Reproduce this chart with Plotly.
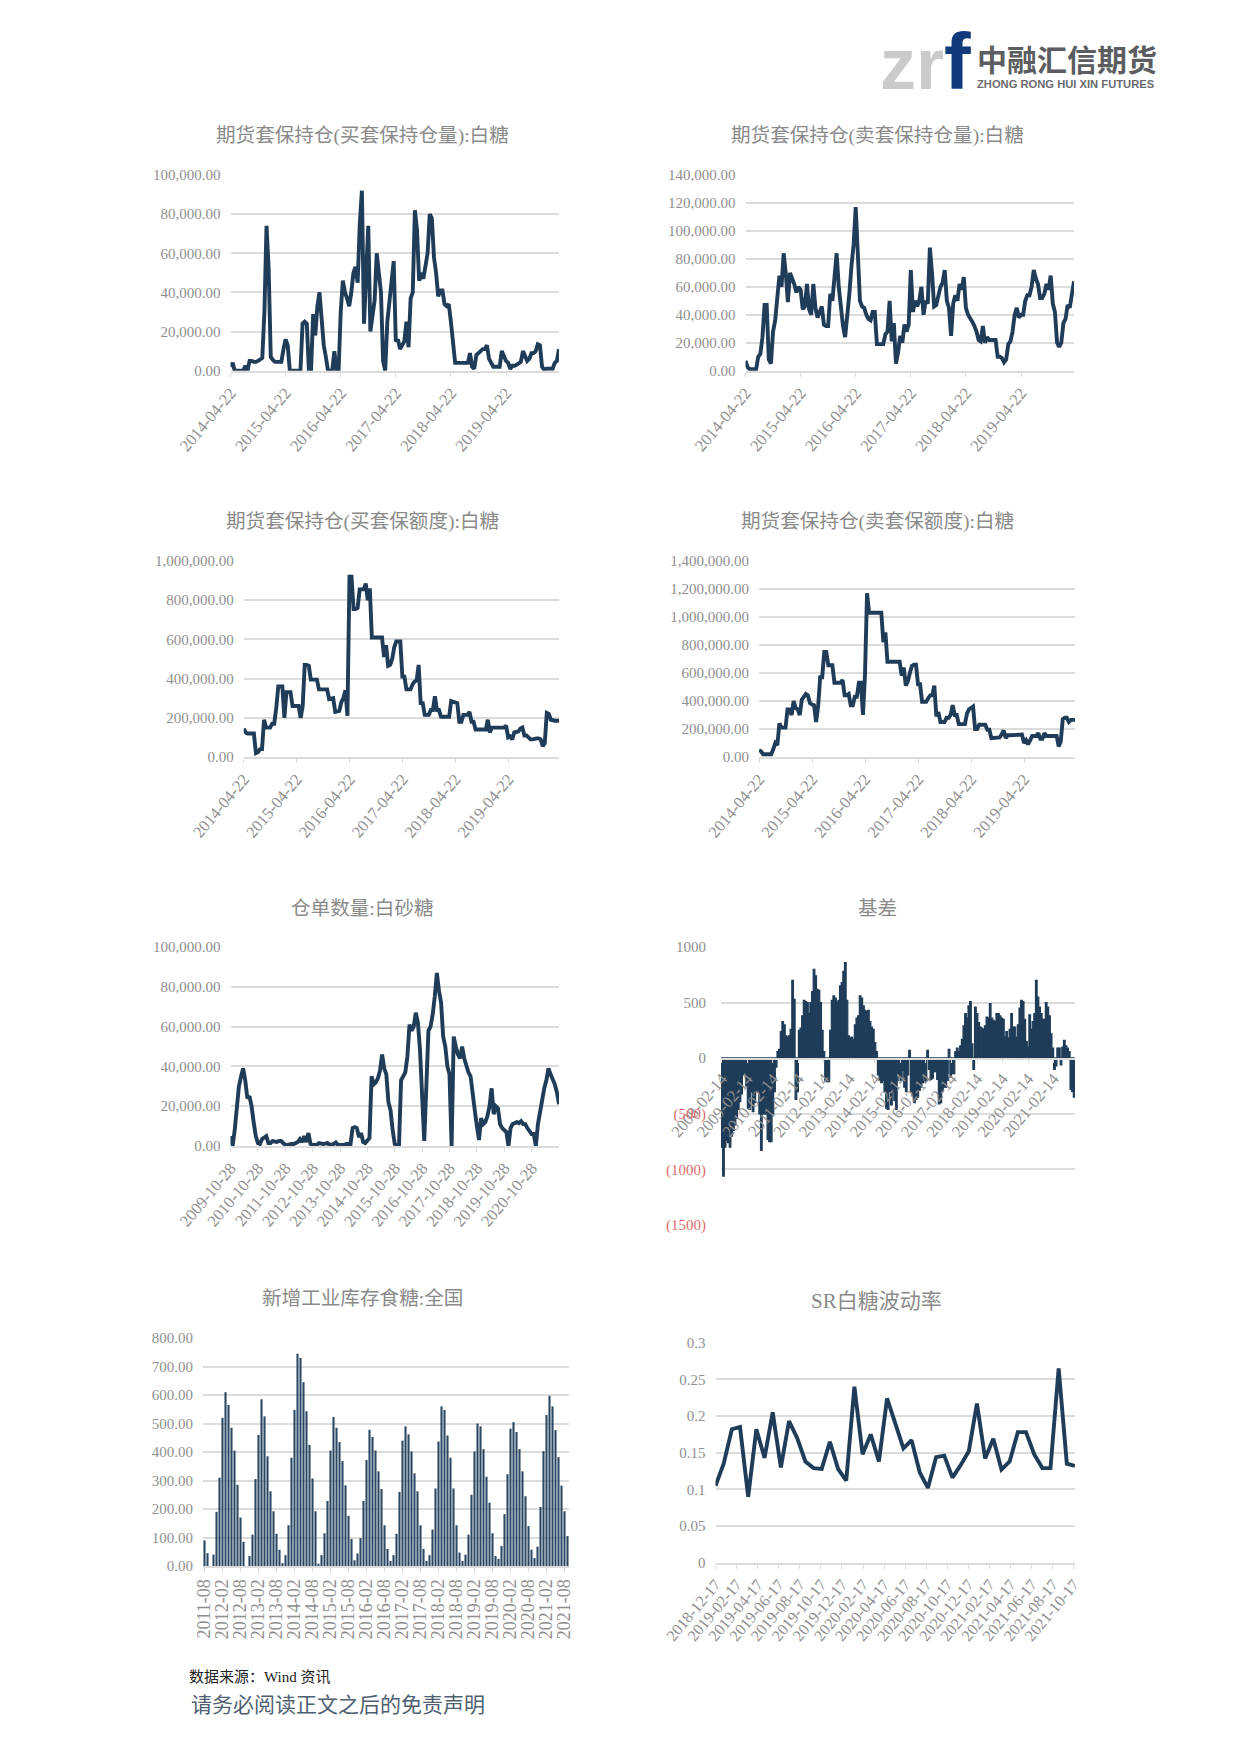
import plotly.graph_objects as go

W, H = 1240, 1753
NAVY = "#1f3c58"
GREY = "#8f8f8f"
GRID = "#dcdcdc"
FONT = "Liberation Serif, Noto Sans CJK SC"

buy_oi = [
 2000,4000,0,0,0,0,0,2500,0,5000,5000,4500,4500,5000,6000,6500,30000,74000,52000,7000,5500,4500,4500,4500,4500,11000,
 16000,13000,0,0,0,0,0,0,24000,25000,24000,0,0,29000,18000,33000,40000,24000,13000,7000,0,0,0,10000,0,0,
 30000,46000,40000,37000,33000,40000,50000,53000,45000,75000,92000,24000,56000,74000,20000,28000,36000,60000,50000,40000,5000,0,25000,37000,48000,56000,
 15000,16000,11000,13000,15000,25000,12000,37000,40000,82000,72000,46000,50000,47000,55000,60000,80000,78000,58000,50000,38000,41000,41000,34000,33000,34000,
 25000,12000,4000,4000,4000,4000,4000,4000,4000,9000,2000,1000,8000,9000,10000,11000,11000,13000,6000,4000,2000,2000,2000,2000,10000,7000,
 5000,4000,1000,2500,2500,3000,3500,4500,10000,7000,5000,6000,9000,9000,10000,13500,13000,2000,500,1000,1000,1000,1000,4000,5000,11000,
]
sell_oi = [
 7000,2500,1000,1000,1000,1000,10000,12000,24000,47000,47000,8000,5000,28000,36000,52000,68000,60000,84000,70000,49000,70000,66000,62000,56000,60000,
 58000,44000,46000,62000,44000,40000,62000,45000,38000,42000,46000,33000,32000,32000,55000,50000,72000,84000,60000,42000,32000,24000,38000,55000,75000,90000,
 117000,85000,50000,46000,45000,40000,37000,36000,42000,42000,19000,19000,19000,19000,26000,28000,50000,21000,34000,5000,13000,25000,20000,33000,28000,33000,
 72000,42000,50000,46000,50000,60000,40000,50000,48000,88000,70000,46000,47000,55000,60000,63000,72000,50000,45000,25000,48000,54000,50000,62000,58000,67000,
 45000,40000,38000,35000,32000,28000,22000,21000,32000,20000,24000,22000,22000,22000,22000,10000,10000,9000,6000,8000,19000,21000,28000,40000,45000,38000,
 40000,40000,50000,54000,54000,60000,72000,66000,62000,52000,52000,55000,62000,58000,68000,48000,42000,20000,17000,20000,34000,37000,47000,45000,53000,64000,
]
buy_amt = [
 145000,125000,120000,120000,120000,120000,20000,25000,40000,40000,190000,150000,150000,150000,170000,170000,250000,360000,360000,360000,200000,330000,330000,330000,260000,260000,
 260000,260000,200000,260000,470000,470000,465000,395000,395000,395000,395000,345000,345000,345000,345000,345000,295000,300000,300000,230000,235000,235000,280000,300000,340000,210000,
 920000,920000,755000,755000,760000,855000,855000,855000,885000,800000,860000,610000,610000,610000,610000,610000,610000,510000,570000,465000,470000,500000,560000,590000,590000,590000,
 410000,410000,345000,345000,345000,370000,385000,390000,470000,275000,275000,215000,215000,215000,240000,240000,310000,240000,240000,205000,205000,205000,205000,205000,285000,280000,
 275000,275000,180000,180000,215000,215000,215000,230000,180000,180000,140000,140000,140000,140000,140000,140000,190000,125000,150000,150000,150000,150000,150000,150000,150000,160000,
 100000,105000,90000,125000,130000,130000,145000,150000,110000,110000,100000,90000,90000,95000,95000,95000,90000,55000,70000,225000,220000,190000,185000,185000,185000,185000,
]
sell_amt = [
 50000,40000,20000,20000,20000,20000,20000,55000,100000,85000,240000,210000,210000,210000,340000,340000,300000,400000,350000,340000,300000,410000,430000,450000,440000,385000,
 375000,370000,250000,360000,570000,570000,750000,750000,655000,655000,655000,530000,530000,530000,530000,550000,440000,440000,450000,370000,370000,430000,430000,530000,530000,300000,
 590000,1170000,1030000,1030000,1030000,1030000,1030000,1030000,1030000,820000,890000,680000,680000,680000,680000,680000,680000,680000,580000,640000,510000,540000,600000,650000,660000,660000,
 520000,520000,395000,395000,395000,420000,440000,440000,510000,290000,320000,250000,250000,250000,280000,280000,300000,370000,300000,300000,235000,235000,235000,235000,310000,340000,
 350000,360000,200000,200000,230000,230000,230000,230000,195000,195000,135000,135000,135000,135000,140000,160000,190000,135000,155000,155000,155000,155000,155000,155000,155000,160000,
 100000,120000,90000,120000,150000,150000,150000,170000,130000,130000,170000,150000,150000,155000,155000,150000,150000,75000,110000,270000,280000,280000,250000,265000,265000,265000,
]
receipts = [
 5000,0,8000,18000,30000,35000,39000,33000,24000,25000,20000,12000,5000,
 1500,1000,3500,4000,5000,1500,1500,2500,2000,2000,2500,2500,1500,
 500,500,1000,1000,1000,1500,2000,3500,2000,5000,2000,6500,1000,
 500,500,500,1500,1000,1000,1200,1500,500,700,1000,1800,500,
 500,300,500,1000,1000,1000,9000,9500,9000,4500,6500,2000,1500,
 2500,4000,35000,31000,32000,34000,38000,46000,39000,36000,22000,18000,8000,
 1000,0,0,33000,35000,37000,45000,61000,58000,60000,67000,62000,48000,
 25000,2500,30000,58000,60000,66000,75000,87000,78000,72000,55000,50000,40000,
 36000,0,55000,50000,46000,44000,50000,44000,40000,37000,35000,25000,18000,
 10000,3000,14000,11000,12000,15000,20000,29000,16000,20000,19000,11000,9000,
 8000,7000,0,9000,11000,11500,12000,11500,12500,11000,11000,9000,7000,
 6000,6000,0,11000,18000,23000,29000,33000,39000,36000,34000,31000,27000,21000,
]
basis = [
 -800,-1060,-800,-740,-760,-800,-700,-650,-600,-540,-460,-390,-320,-150,-130,-250,
 -450,-460,-300,-480,-400,-300,-300,-500,-830,-500,-500,-500,-730,-750,-750,-500,
 -300,-80,60,80,240,330,300,200,190,200,260,700,530,-370,-300,250,
 270,380,520,510,500,400,500,600,800,740,620,610,500,250,60,-200,
 -210,-210,250,520,560,540,500,520,650,680,780,860,520,200,180,190,
 170,300,360,380,560,540,470,430,420,430,330,280,260,140,60,-150,
 -200,-220,-200,-300,-450,-460,-300,-420,-300,-380,-460,-200,-170,-200,-110,-260,
 -300,-150,70,-300,-340,-400,-370,-350,-290,-260,-220,-210,-200,70,-100,-190,
 -180,-120,-120,-190,-410,-400,-300,-260,-260,-200,80,-170,-140,-140,60,90,
 60,110,170,290,400,360,470,510,130,-100,460,400,320,280,270,260,
 290,370,360,490,360,340,330,400,400,380,360,350,190,240,180,260,
 400,280,280,190,300,450,520,510,350,150,100,390,260,330,400,700,
 550,460,400,350,350,500,460,380,220,90,-100,-70,90,90,-60,100,
 160,110,90,60,-280,-300,-350,
]
new_stock = [
 90,45,0,40,190,310,520,610,565,485,405,285,170,85,0,35,110,305,460,585,525,385,262,192,113,57,10,38,143,380,
 548,745,730,645,543,425,307,192,8,38,115,228,405,523,485,435,368,283,176,95,20,44,98,228,372,478,453,405,332,270,
 143,60,18,38,113,260,440,490,462,402,325,262,143,60,18,38,128,272,437,560,548,458,380,272,143,47,18,40,110,250,
 402,500,490,410,313,222,115,35,25,70,182,322,482,505,470,410,332,245,140,57,28,68,207,403,530,597,560,477,382,282,
 192,105,
]
volatility = [
 .105,.135,.182,.185,.09,.182,.143,.205,.13,.193,.17,.138,.129,.128,.165,.128,.112,.24,.148,.175,.138,.224,.19,
 .156,.167,.123,.102,.144,.146,.116,.133,.152,.217,.142,.169,.127,.138,.178,.178,.148,.129,.129,.265,.135,.132,
]

labels_a = ["2014-04-22","2015-04-22","2016-04-22","2017-04-22","2018-04-22","2019-04-22"]
labels_receipts = ["2009-10-28","2010-10-28","2011-10-28","2012-10-28","2013-10-28","2014-10-28","2015-10-28",
                   "2016-10-28","2017-10-28","2018-10-28","2019-10-28","2020-10-28"]
labels_basis = ["2008-02-14","2009-02-14","2010-02-14","2011-02-14","2012-02-14","2013-02-14","2014-02-14",
                "2015-02-14","2016-02-14","2017-02-14","2018-02-14","2019-02-14","2020-02-14","2021-02-14"]
labels_stock = ["2011-08","2012-02","2012-08","2013-02","2013-08","2014-02","2014-08","2015-02","2015-08","2016-02",
                "2016-08","2017-02","2017-08","2018-02","2018-08","2019-02","2019-08","2020-02","2020-08","2021-02","2021-08"]
labels_vol = ["2018-12-17","2019-02-17","2019-04-17","2019-06-17","2019-08-17","2019-10-17","2019-12-17","2020-02-17",
              "2020-04-17","2020-06-17","2020-08-17","2020-10-17","2020-12-17","2021-02-17","2021-04-17","2021-06-17",
              "2021-08-17","2021-10-17"]
basis_y = [1000, 500, 0, -500, -1000, -1500]
basis_y_text = ["1000", "500", "0", '<span style="color:#dd6b6b">(500)</span>',
                '<span style="color:#dd6b6b">(1000)</span>', '<span style="color:#dd6b6b">(1500)</span>']
vol_y = [0, 0.05, 0.1, 0.15, 0.2, 0.25, 0.3]
vol_y_text = ["0", "0.05", "0.1", "0.15", "0.2", "0.25", "0.3"]

fig = go.Figure()
ytickfont = dict(family=FONT, size=15, color=GREY)


def add_panel(n, box, title, title_xy, values, kind, labels, step, yrange, ydtick=None, yfmt=None,
              yvals=None, ytext=None, standoff=9, xrot=-50, xrange=None, free_zero=None, ticklen=4, tsize=19.6,
              xsize=16.5):
    left, right, top, bottom = box
    xid, yid = f"x{n}", f"y{n}"
    xs = list(range(len(values)))
    if kind == "line":
        fig.add_trace(go.Scatter(x=xs, y=values, mode="lines", xaxis=xid, yaxis=yid, cliponaxis=False,
                                 line=dict(color=NAVY, width=3.9, shape="linear"), showlegend=False))
    else:
        fig.add_trace(go.Bar(x=xs, y=values, xaxis=xid, yaxis=yid, width=1.0 if kind == "solid" else 0.7,
                             marker=dict(color=NAVY if kind == "solid" else "#2a4763",
                                         line=dict(width=1.2 if kind == "solid" else 0, color=NAVY)),
                             showlegend=False))
    xax = dict(domain=[left / W, right / W], anchor=yid, range=xrange or [0, len(values) - 1],
               tickmode="array", tickvals=[i * step for i in range(len(labels))], ticktext=labels,
               tickangle=xrot, tickfont=dict(family=FONT, size=xsize, color=GREY), showgrid=False, zeroline=False,
               showline=True, linecolor=GRID, linewidth=2, ticks="outside", ticklen=ticklen, tickcolor=GRID,
               tickwidth=1.2, automargin=False)
    if free_zero is not None:
        xax.update(anchor="free", position=1 - free_zero / H)
    yax = dict(domain=[1 - bottom / H, 1 - top / H], anchor=xid, range=yrange, tickfont=ytickfont,
               showgrid=True, gridcolor=GRID, gridwidth=2, zeroline=False, showline=False, ticks="",
               ticklabelstandoff=standoff, automargin=False)
    if yvals is not None:
        yax.update(tickmode="array", tickvals=yvals, ticktext=ytext)
    else:
        yax.update(dtick=ydtick, tick0=0, tickformat=yfmt)
    fig.update_layout({f"xaxis{n}": xax, f"yaxis{n}": yax})
    fig.add_annotation(text=title, x=title_xy[0] / W, y=1 - title_xy[1] / H, xref="paper", yref="paper",
                       xanchor="center", yanchor="middle", showarrow=False,
                       font=dict(family=FONT, size=tsize, color="#8a8a8a"))


add_panel(1, (230.5, 559, 175, 370.7), "期货套保持仓(买套保持仓量):白糖", (362.7, 136), buy_oi, "line", labels_a, 26,
          [0, 100000], 20000, ",.2f")
add_panel(2, (745.5, 1074, 175, 370.7), "期货套保持仓(卖套保持仓量):白糖", (877, 136), sell_oi, "line", labels_a, 26,
          [0, 140000], 20000, ",.2f")
add_panel(3, (243.7, 559, 561, 757), "期货套保持仓(买套保额度):白糖", (362.7, 522), buy_amt, "line", labels_a, 26,
          [0, 1000000], 200000, ",.2f")
add_panel(4, (759, 1075, 561, 757), "期货套保持仓(卖套保额度):白糖", (877, 522), sell_amt, "line", labels_a, 26,
          [0, 1400000], 200000, ",.2f")
add_panel(5, (230.5, 559, 947, 1146), "仓单数量:白砂糖", (362.7, 908), receipts, "line", labels_receipts, 13,
          [0, 100000], 20000, ",.2f")
add_panel(6, (721, 1075, 947, 1225), "基差", (877, 908), basis, "solid", labels_basis, 15.5,
          [-1500, 1000], yvals=basis_y, ytext=basis_y_text, standoff=14,
          xrange=[-0.5, len(basis) - 0.5], free_zero=1058.5, ticklen=3)
add_panel(7, (203, 569, 1338, 1566), "新增工业库存食糖:全国", (362.7, 1298), new_stock, "bars", labels_stock, 6,
          [0, 800], 100, ",.2f", xrot=-90, xrange=[-0.5, len(new_stock) - 0.5], xsize=18)
add_panel(8, (715.5, 1075, 1342.7, 1562.7), "SR白糖波动率", (876, 1301), volatility, "line", labels_vol, 2.58,
          [0, 0.3], yvals=vol_y, ytext=vol_y_text, tsize=21, xsize=16)
fig.update_layout(barmode="overlay")


def note(text, x, y, size, color, family=FONT, anchor="left"):
    fig.add_annotation(text=text, x=x / W, y=1 - y / H, xref="paper", yref="paper", xanchor=anchor,
                       yanchor="middle", showarrow=False, font=dict(family=family, size=size, color=color))


note("数据来源：Wind 资讯", 187, 1677, 15, "#222222")
note("请务必阅读正文之后的免责声明", 189, 1705, 21, "#4f5f72")
# logo
note("<b>zr</b>", 878, 64, 72, "#c9cacc", "Liberation Sans")
note("<b>f</b>", 942, 61, 80, "#103a7c", "Liberation Sans")
note("<b>中融汇信期货</b>", 975, 58, 30, "#5c5d60", "Noto Sans CJK SC")
note("<b>ZHONG RONG HUI XIN FUTURES</b>", 975, 84, 11.2, "#6a6b6e", "Liberation Sans")

fig.update_layout(width=W, height=H, margin=dict(l=0, r=0, t=0, b=0), paper_bgcolor="white", plot_bgcolor="white",
                  font=dict(family=FONT), showlegend=False)
fig.write_html("out.html", config=dict(displayModeBar=False),
               post_script="document.body.style.margin='0';")
